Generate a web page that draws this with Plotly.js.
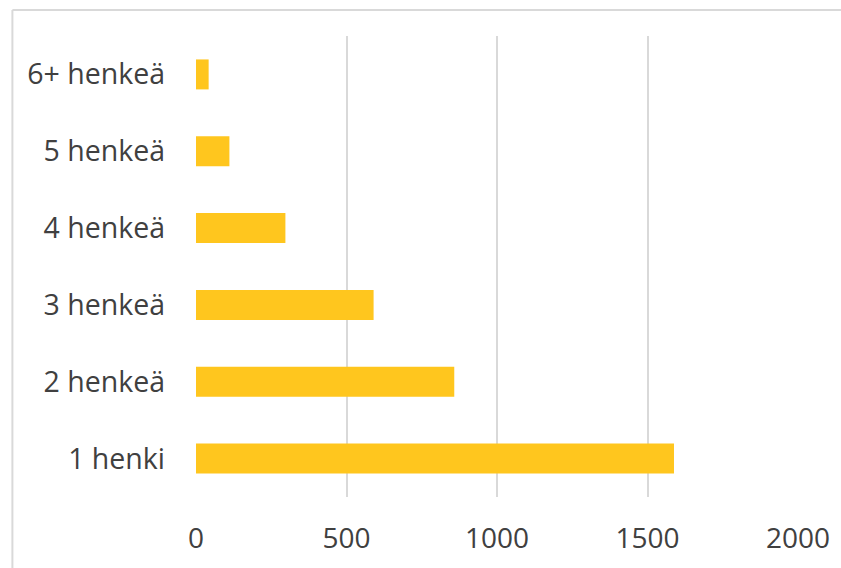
<!DOCTYPE html>
<html>
<head>
<meta charset="utf-8">
<script src="https://cdn.plot.ly/plotly-3.0.1.min.js"></script>
<style>
html,body{margin:0;padding:0;background:#fff;}
#chart{width:841px;height:568px;}
</style>
</head>
<body>
<div id="chart"></div>
<script>
const categories = ["1 henki", "2 henkeä", "3 henkeä", "4 henkeä", "5 henkeä", "6+ henkeä"];
const values = [1588, 858, 590, 297, 111, 42];
const tickValues = [0, 500, 1000, 1500, 2000];
const tickLabels = ["0", "500", "1000", "1500", "2000"];

const trace = {
  type: "bar",
  orientation: "h",
  x: values,
  y: categories,
  marker: {color: "#FFC61E", line: {width: 0}},
  hoverinfo: "x+y"
};

const layout = {
  width: 841,
  height: 568,
  margin: {l: 195.5, r: 43, t: 36, b: 71, pad: 0},
  paper_bgcolor: "#ffffff",
  plot_bgcolor: "#ffffff",
  font: {family: "Open Sans, Noto Sans, sans-serif", size: 28, color: "#404040"},
  bargap: 0.61,
  showlegend: false,
  xaxis: {
    range: [0, 2000],
    tickvals: tickValues,
    ticktext: tickLabels,
    showgrid: true,
    gridcolor: "#d9d9d9",
    gridwidth: 2,
    zeroline: false,
    showline: false,
    ticks: "",
    ticklabelstandoff: 22,
    tickfont: {size: 28, color: "#404040"},
    fixedrange: true
  },
  yaxis: {
    type: "category",
    categoryorder: "array",
    categoryarray: categories,
    showgrid: false,
    zeroline: false,
    showline: false,
    ticks: "",
    ticklabelstandoff: 30,
    tickfont: {size: 28.5, color: "#404040"},
    fixedrange: true
  },
  shapes: [
    {type: "line", xref: "paper", yref: "paper", x0: -0.305, x1: 1.2, y0: 1.0564, y1: 1.0564,
     line: {color: "#d9d9d9", width: 2}},
    {type: "line", xref: "paper", yref: "paper", x0: -0.305, x1: -0.305, y0: 1.0564, y1: -0.3,
     line: {color: "#d9d9d9", width: 2}}
  ]
};

Plotly.newPlot("chart", [trace], layout, {displayModeBar: false, staticPlot: true});
</script>
</body>
</html>
